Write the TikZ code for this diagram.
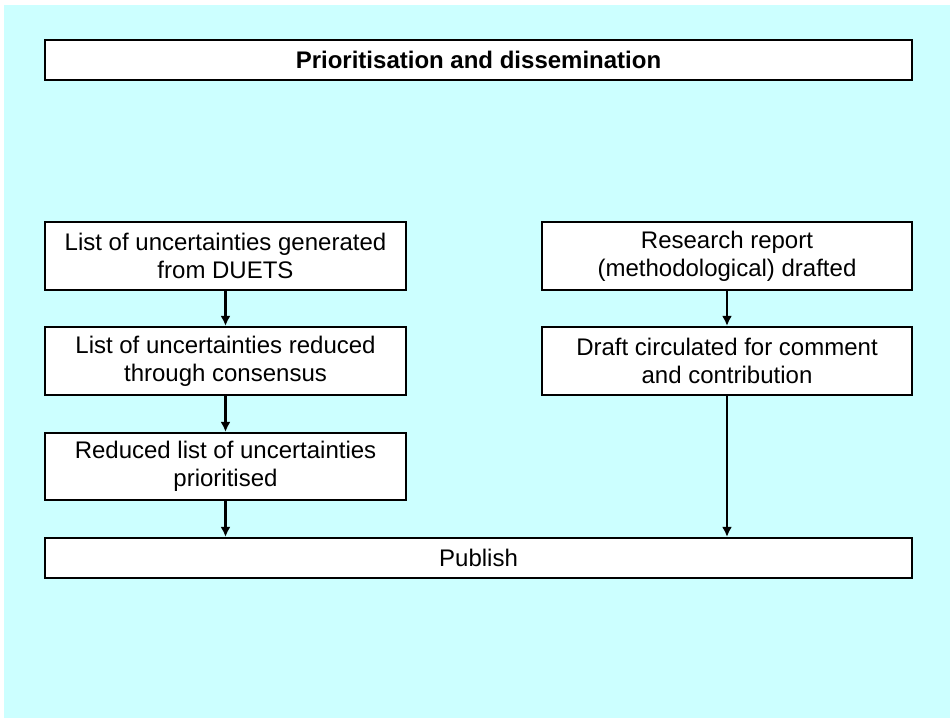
\documentclass[tikz,border=0pt]{standalone}
\usepackage{fontspec}
\setmainfont{Liberation Sans}
\usetikzlibrary{arrows.meta}
\definecolor{bgcyan}{RGB}{204,255,255}
\tikzset{
	box/.style={draw, line width=2.2pt, fill=white, inner sep=0pt, align=center,
		font=\fontsize{24}{28}\selectfont},
	flow/.style={line width=2.5pt, -{Latex[length=10pt,width=10pt]}}
}
\begin{document}
\begin{tikzpicture}[x=1pt, y=-1pt]
	\useasboundingbox (0, 0) rectangle (950, 719);
	\fill[bgcyan] (4, 5) rectangle (950, 718);
	\node[box, minimum width=867pt, minimum height=40pt] (title) at (478.5, 60) {\textbf{Prioritisation and dissemination}};
	\node[box, minimum width=361pt, minimum height=68pt] (listgen) at (225.5, 256) {List of uncertainties generated\\from DUETS};
	\node[box, minimum width=361pt, minimum height=68pt] (listred) at (225.5, 361) {List of uncertainties reduced\\through consensus};
	\node[box, minimum width=361pt, minimum height=67pt] (listprio) at (225.5, 466.5) {Reduced list of uncertainties\\prioritised};
	\node[box, minimum width=370pt, minimum height=68pt] (report) at (727, 256) {Research report\\(methodological) drafted};
	\node[box, minimum width=370pt, minimum height=68pt] (draft) at (727, 361) {Draft circulated for comment\\and contribution};
	\node[box, minimum width=867pt, minimum height=40pt] (publish) at (478.5, 558) {Publish};
	\draw[flow] (listgen) -- (listred);
	\draw[flow] (listred) -- (listprio);
	\draw[flow] (listprio) -- (listprio |- publish.north);
	\draw[flow] (report) -- (draft);
	\draw[flow] (draft) -- (draft |- publish.north);
\end{tikzpicture}
\end{document}
